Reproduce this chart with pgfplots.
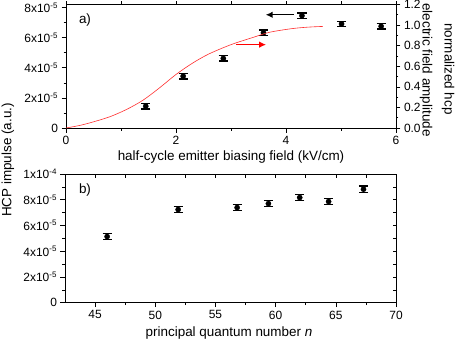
\documentclass[border=0pt]{standalone}
\usepackage{fontspec}
\setmainfont{Liberation Sans}
\usepackage{pgfplots}
\pgfplotsset{compat=1.18}
\usetikzlibrary{arrows.meta}
\definecolor{CurveRed}{HTML}{FF3030}

\newcommand{\tickfont}{\fontsize{12}{14}\selectfont}
\newcommand{\labfont}{\fontsize{13.5}{16}\selectfont}
\newcommand{\ex}[2]{#1x10\textsuperscript{#2}}

\pgfplotsset{
  base/.style={scale only axis, tick label style={font=\tickfont},
    scaled ticks=false,
    major tick length=4.5bp, minor tick length=2.5bp,
    every tick/.style={black, line width=0.6bp}, axis line style={line width=0.8bp}},
  pts/.style={black, only marks, mark=*, mark size=2.6bp,
    mark options={fill=black, draw=black},
    error bars/.cd, y dir=both, y explicit,
    error bar style={black, line width=1.3bp},
    error mark options={black, rotate=90, mark size=4.6bp, line width=1.3bp}},
}

\begin{document}
\begin{tikzpicture}
\useasboundingbox (0,0) rectangle (457bp,-341bp);

% ---- panel a: left axis with data
\begin{axis}[base, at={(66bp,-128bp)}, anchor=south west,
  width=330bp, height=123.5bp,
  xmin=0, xmax=6, ymin=0, ymax=8.2e-5,
  xtick={0,2,4,6}, xticklabels={0,2,4,6}, minor xtick={1,3,5},
  ytick={0,2e-5,4e-5,6e-5,8e-5},
  yticklabels={0,\ex{2}{-5},\ex{4}{-5},\ex{6}{-5},\ex{8}{-5}},
  minor ytick={1e-5,3e-5,5e-5,7e-5},
  xtick pos=bottom, ytick pos=left, tick align=outside]
  \addplot[pts] coordinates {
    (1.45,1.45e-5) +- (0,0.18e-5)
    (2.13,3.44e-5) +- (0,0.18e-5)
    (2.86,4.62e-5) +- (0,0.18e-5)
    (3.59,6.32e-5) +- (0,0.18e-5)
    (4.29,7.46e-5) +- (0,0.18e-5)
    (5.01,6.91e-5) +- (0,0.18e-5)
    (5.73,6.75e-5) +- (0,0.18e-5)};
\end{axis}

% ---- panel a: top ticks
\begin{axis}[base, at={(66bp,-128bp)}, anchor=south west,
  width=330bp, height=123.5bp,
  xmin=0, xmax=6, ymin=0, ymax=1,
  xtick={0,1,2,3,4,5,6}, xticklabels={}, ytick=\empty,
  xtick pos=top, tick align=outside, major tick length=3.5bp]
\end{axis}

% ---- panel a: right axis, field amplitude
\begin{axis}[base, at={(66bp,-128bp)}, anchor=south west,
  width=330bp, height=123.5bp,
  xmin=0, xmax=6, ymin=0, ymax=1.2,
  axis x line=none, axis y line*=right, tick align=outside,
  ytick={0,0.2,0.4,0.6,0.8,1.0,1.2},
  yticklabels={0.0,0.2,0.4,0.6,0.8,1.0,1.2},
  minor ytick={0.1,0.3,0.5,0.7,0.9,1.1}]
  \addplot[CurveRed, line width=0.6bp, smooth] coordinates {
    (0,0) (0.25,0.025) (0.5,0.06) (0.8,0.11) (1.1,0.18) (1.4,0.27)
    (1.7,0.39) (2.0,0.52) (2.3,0.63) (2.6,0.72) (3.0,0.81) (3.4,0.88)
    (3.7,0.93) (4.1,0.965) (4.4,0.98) (4.67,0.987)};
  \addplot[black, line width=1.4bp, -{Latex[length=7bp,width=6.5bp]}]
    coordinates {(4.15,1.10) (3.63,1.10)};
  \addplot[red, line width=1.4bp, -{Latex[length=7bp,width=6.5bp]}]
    coordinates {(3.10,0.81) (3.64,0.81)};
\end{axis}

% ---- panel b
\begin{axis}[base, at={(65bp,-302.7bp)}, anchor=south west,
  width=331bp, height=128.7bp,
  xmin=42.5, xmax=70, ymin=0, ymax=1e-4,
  xtick={45,50,55,60,65,70}, xticklabels={45,50,55,60,65,70},
  minor xtick={47.5,52.5,57.5,62.5,67.5},
  ytick={0,2e-5,4e-5,6e-5,8e-5,1e-4},
  yticklabels={0,\ex{2}{-5},\ex{4}{-5},\ex{6}{-5},\ex{8}{-5},\ex{1}{-4}},
  minor ytick={1e-5,3e-5,5e-5,7e-5,9e-5},
  xtick pos=bottom, ytick pos=left, tick align=outside]
  \addplot[pts] coordinates {
    (46.0,5.14e-5) +- (0,0.25e-5)
    (51.9,7.24e-5) +- (0,0.25e-5)
    (56.8,7.39e-5) +- (0,0.25e-5)
    (59.4,7.70e-5) +- (0,0.25e-5)
    (62.0,8.17e-5) +- (0,0.25e-5)
    (64.4,7.86e-5) +- (0,0.25e-5)
    (67.3,8.82e-5) +- (0,0.25e-5)};
\end{axis}

\begin{axis}[base, at={(65bp,-302.7bp)}, anchor=south west,
  width=331bp, height=128.7bp,
  xmin=42.5, xmax=70, ymin=0, ymax=10,
  xtick={45,47.5,50,52.5,55,57.5,60,62.5,65,67.5,70},
  ytick={0,1,2,3,4,5,6,7,8,9,10},
  xticklabels={}, yticklabels={},
  xtick pos=top, ytick pos=right, tick align=inside, major tick length=3.5bp]
\end{axis}

% ---- labels
\node[font=\labfont] at (85bp,-20bp) {a)};
\node[font=\labfont] at (85bp,-190bp) {b)};
\node[font=\labfont] at (231bp,-157bp) {half-cycle emitter biasing field (kV/cm)};
\node[font=\labfont] at (229bp,-333bp) {principal quantum number \textit{n}};
\node[font=\labfont, rotate=90] at (8bp,-160bp) {HCP impulse (a.u.)};
\node[font=\labfont, rotate=-90] at (426bp,-70bp) {electric field amplitude};
\node[font=\labfont, rotate=-90] at (448bp,-69bp) {normalized hcp};
\end{tikzpicture}
\end{document}
